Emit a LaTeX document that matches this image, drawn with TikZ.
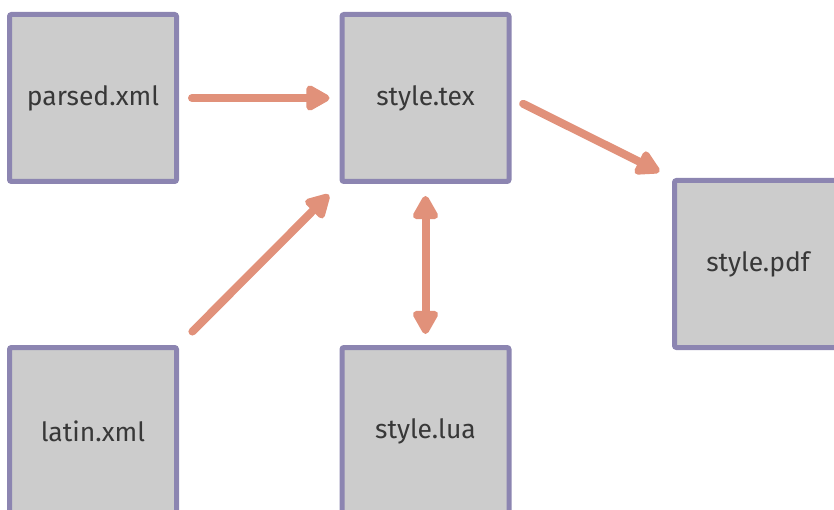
\documentclass[tikz,border=0pt]{standalone}
\usepackage{fontspec}
\setmainfont{Fira Sans}
\usetikzlibrary{arrows.meta}
\definecolor{boxfill}{HTML}{CCCCCC}
\definecolor{boxline}{HTML}{8C85B1}
\definecolor{arrowc}{HTML}{E1917A}
\definecolor{textc}{HTML}{383838}

\begin{document}
\begin{tikzpicture}[x=1pt,y=-1pt,
    filebox/.style={draw=boxline,fill=boxfill,line width=5pt,rounded corners=2pt,
      minimum size=167pt,inner sep=0pt,text=textc,font=\fontsize{26.5}{30}\selectfont},
    flow/.style={draw=arrowc,line width=8pt,line cap=round,
      -{Triangle[length=27pt,width=28pt,round]}}]
        \useasboundingbox (0,0) rectangle (834,510);%
        \clip (0,0) rectangle (834,510);%
        \node[filebox] (parsed) at (93,98) {parsed.xml};%
        \node[filebox] (tex) at (425.5,98) {style.tex};%
        \node[filebox] (pdf) at (758,264) {style.pdf};%
        \node[filebox] (latin) at (93,431) {latin.xml};%
        \node[filebox] (lua) at (425.5,431) {style.lua};%
        \draw[flow,shorten <=13pt,shorten >=10pt] (parsed.east) -- (tex.west);%
        \draw[flow,shorten <=19pt,shorten >=15pt] (latin.north east) -- (tex.south west);%
        \draw[flow,shorten <=13pt,shorten >=14pt] (tex.east) -- (pdf.north west);%
        \draw[flow,{Triangle[length=27pt,width=28pt,round]}-{Triangle[length=27pt,width=28pt,round]},
          shorten <=12pt,shorten >=11pt] (tex.south) -- (lua.north);%
      \end{tikzpicture}
\end{document}
